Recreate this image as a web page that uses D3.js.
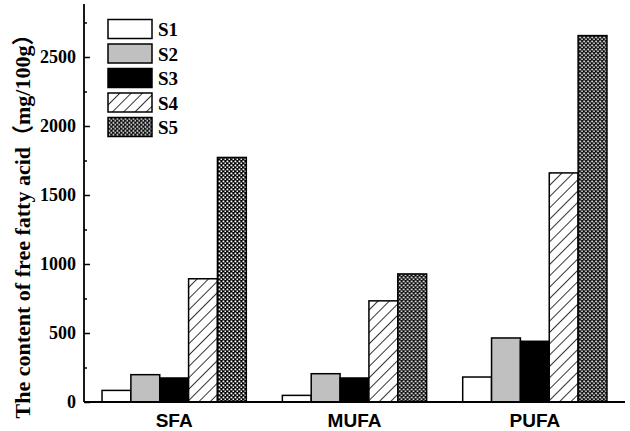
<!DOCTYPE html>
<html>
<head>
<meta charset="utf-8">
<script src="https://cdn.jsdelivr.net/npm/d3@7"></script>
<style>
  body { margin: 0; background: #fff; }
  svg { display: block; }
</style>
</head>
<body>
<div id="chart"></div>
<script>
// data
const categories = ["SFA", "MUFA", "PUFA"]
const seriesNames = ["S1", "S2", "S3", "S4", "S5"]
const s1 = [84, 48, 181]
const s2 = [198, 205, 464]
const s3 = [174, 174, 440]
const s4 = [893, 733, 1660]
const s5 = [1772, 928, 2655]
const yTicks = [0, 500, 1000, 1500, 2000, 2500]

const values = [s1, s2, s3, s4, s5]
const W = 630, H = 431
const margin = { left: 84, right: 5, top: 4, bottom: 29 }

const svg = d3.select('#chart').append('svg')
    .attr('width', W)
    .attr('height', H)

/* patterns */
const defs = svg.append('defs')
const hatch = defs.append('pattern')
    .attr('id', 'hatch')
    .attr('patternUnits', 'userSpaceOnUse')
    .attr('width', 8).attr('height', 8)
    .attr('patternTransform', 'rotate(45)')
hatch.append('rect').attr('width', 8).attr('height', 8).attr('fill', '#fff')
hatch.append('line')
    .attr('x1', 0).attr('y1', 0).attr('x2', 0).attr('y2', 8)
    .attr('stroke', '#000').attr('stroke-width', 1.6)

const dots = defs.append('pattern')
    .attr('id', 'dots')
    .attr('patternUnits', 'userSpaceOnUse')
    .attr('width', 4).attr('height', 4)
dots.append('rect').attr('width', 4).attr('height', 4).attr('fill', '#000')
dots.append('rect').attr('x', 0.5).attr('y', 0.5).attr('width', 1.8).attr('height', 1.8).attr('fill', '#fff')
dots.append('rect').attr('x', 2.5).attr('y', 2.5).attr('width', 1.8).attr('height', 1.8).attr('fill', '#fff')

const fills = ['#ffffff', '#c0c0c0', '#000000', 'url(#hatch)', 'url(#dots)']

/* scales */
const x0 = d3.scaleBand().domain(categories)
    .range([margin.left, W - margin.right])
    .paddingInner(0.2).paddingOuter(0.1)
const x1 = d3.scaleBand().domain(seriesNames)
    .range([0, x0.bandwidth()])
const y = d3.scaleLinear().domain([0, 2884])
    .range([H - margin.bottom, margin.top])

/* bars */
const groups = svg.append('g')
    .selectAll('g')
    .data(categories)
    .enter()
    .append('g')
    .attr('transform', d => `translate(${x0(d)},0)`)

groups.selectAll('rect')
    .data((c, ci) => seriesNames.map((s, si) => ({ s, si, v: values[si][ci] })))
    .enter()
    .append('rect')
    .attr('x', d => x1(d.s))
    .attr('y', d => y(d.v))
    .attr('width', x1.bandwidth())
    .attr('height', d => y(0) - y(d.v))
    .attr('fill', d => fills[d.si])
    .attr('stroke', '#000')
    .attr('stroke-width', 1.5)

/* y axis: major + minor ticks pointing inward */
const yAxis = svg.append('g')
    .attr('transform', `translate(${margin.left},0)`)
yAxis.append('g')
    .call(d3.axisRight(y).tickValues(d3.range(250, 2884, 500)).tickSize(3).tickFormat(''))
yAxis.append('g')
    .call(d3.axisRight(y).tickValues(yTicks).tickSize(6).tickFormat(''))
yAxis.selectAll('.domain').remove()
yAxis.selectAll('line').attr('stroke', '#000').attr('stroke-width', 1.5)
yAxis.append('line')
    .attr('x1', 0).attr('x2', 0)
    .attr('y1', y(0)).attr('y2', y(2884))
    .attr('stroke', '#000').attr('stroke-width', 1.8)

yAxis.selectAll('.ylab')
    .data(yTicks)
    .enter()
    .append('text')
    .attr('class', 'ylab')
    .attr('x', -8)
    .attr('y', d => y(d))
    .attr('dy', '0.35em')
    .attr('text-anchor', 'end')
    .style('font', 'bold 18px "Liberation Serif", "Times New Roman", serif')
    .text(d => d)

/* x axis */
svg.append('line')
    .attr('x1', margin.left).attr('x2', W - margin.right)
    .attr('y1', y(0)).attr('y2', y(0))
    .attr('stroke', '#000').attr('stroke-width', 1.8)

svg.selectAll('.xlab')
    .data(categories)
    .enter()
    .append('text')
    .attr('class', 'xlab')
    .attr('x', d => x0(d) + x0.bandwidth() / 2)
    .attr('y', 427)
    .attr('text-anchor', 'middle')
    .style('font', 'bold 19px "Liberation Sans", Arial, sans-serif')
    .text(d => d)

/* y title */
svg.append('text')
    .attr('transform', 'translate(30,221) rotate(-90)')
    .attr('text-anchor', 'middle')
    .style('font', 'bold 22px "Liberation Serif", "Times New Roman", "Noto Sans CJK SC", serif')
    .text('The content of free fatty acid（mg/100g）')

/* legend */
const legend = svg.append('g')
    .selectAll('g')
    .data(seriesNames)
    .enter()
    .append('g')
    .attr('transform', (d, i) => `translate(108,${19.5 + i * 24.5})`)
legend.append('rect')
    .attr('width', 44).attr('height', 19)
    .attr('fill', (d, i) => fills[i])
    .attr('stroke', '#000').attr('stroke-width', 1.5)
legend.append('text')
    .attr('x', 50).attr('y', 10)
    .attr('dy', '0.35em')
    .style('font', 'bold 19px "Liberation Serif", "Times New Roman", serif')
    .text(d => d)
</script>
</body>
</html>
